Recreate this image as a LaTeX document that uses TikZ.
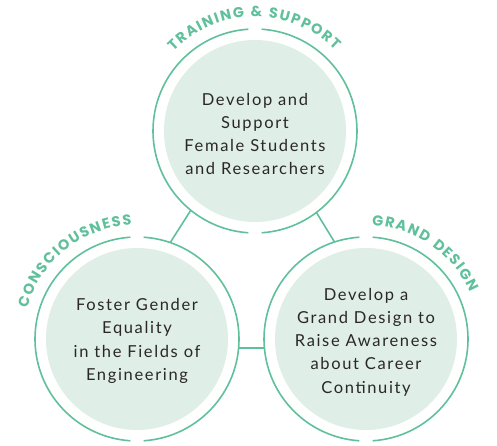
\documentclass[tikz,border=0pt]{standalone}
\usepackage{fontspec}
\setmainfont{Lato}
\newfontfamily\bodyfont[LetterSpace=10]{Lato}
\newfontfamily\labelface{Poppins}
\usepackage{xcolor}
\usetikzlibrary{calc}

\definecolor{ringgreen}{HTML}{5FC09B}
\definecolor{softgreen}{HTML}{DFEEE6}
\definecolor{inkgray}{HTML}{2B2727}

\newlength\lblw
\newlength\chw
\newlength\lblgap
\setlength\lblgap{1.5pt}
\newcommand\labelfont{\labelface\fontsize{14.5}{14.5}\selectfont\bfseries}
\newcommand\measurechar[1]{%
	\pgfinterruptpicture
	\setbox0\hbox{\normalfont\labelfont#1}%
	\global\chw=\wd0
	\endpgfinterruptpicture}

% letters set one by one on an arc: centre node, baseline radius, middle angle, letters
\newcommand\arclabel[4]{%
	\global\lblw=0pt
	\foreach \ch in {#4} {%
		\measurechar{\ch}%
		\global\advance\lblw by \chw
		\global\advance\lblw by \lblgap
	}%
	\global\advance\lblw by -\lblgap
	\pgfmathsetmacro\startang{#3 + deg(0.5*\lblw/#2)}%
	\xdef\curang{\startang}%
	\foreach \ch in {#4} {%
		\measurechar{\ch}%
		\pgfmathsetmacro\midang{\curang - deg(0.5*\chw/#2)}%
		\node [lbl, rotate=\midang-90] at ($(#1.center)+(\midang:#2pt)$) {\ch};
		\pgfmathsetmacro\nextang{\curang - deg((\chw+\lblgap)/#2)}%
		\xdef\curang{\nextang}%
	}%
}

\begin{document}
\begin{tikzpicture}[x = 1pt, y = 1pt,
	hub/.style = {circle, fill = softgreen, minimum size = 182pt, inner sep = 0pt,
		outer sep = 11pt},
	blurb/.style = {align = center, text = inkgray, inner sep = 0pt,
		font = \bodyfont\fontsize{16.5}{23.2}\selectfont},
	ring/.style = {ringgreen, line width = 1.6pt},
	lbl/.style = {font = \labelfont, text = ringgreen, inner sep = 0pt, anchor = base}]
	\useasboundingbox (0,0) rectangle (497,446);

	\node [hub] (train) at (255,315) {};
	\node [hub] (gender) at (137,107) {};
	\node [hub] (design) at (366,107) {};

	\node [blurb] (trainText) at ([yshift=-3pt]train.center) {Develop and\\Support\\Female Students\\and Researchers};
	\node [blurb] (genderText) at ([yshift=-2pt]gender.center) {Foster Gender\\Equality\\in the Fields of\\Engineering};
	\node [blurb] (designText) at ([yshift=-3pt]design.center) {Develop a\\Grand Design to\\Raise Awareness\\about Career\\Continuity};

	% rings, open at top and bottom
	\foreach \n in {train, gender, design} {
		\draw [ring] (\n.center) ++(93.7:102pt) arc [start angle = 93.7, end angle = 266.3, radius = 102pt];
		\draw [ring] (\n.center) ++(-86.3:102pt) arc [start angle = -86.3, end angle = 86.3, radius = 102pt];
	}

	\draw [ring] (train.-129) -- (gender.71);
	\draw [ring] (train.-53) -- (design.108);
	\draw [ring] (gender.-5) -- (design.185);

	\arclabel{train}{114}{90.5}{T,R,A,I,N,I,N,G,~,\&,~,S,U,P,P,O,R,T}
	\arclabel{gender}{114}{128.5}{C,O,N,S,C,I,O,U,S,N,E,S,S}
	\arclabel{design}{114}{55.5}{G,R,A,N,D,~,D,E,S,I,G,N}
\end{tikzpicture}
\end{document}
